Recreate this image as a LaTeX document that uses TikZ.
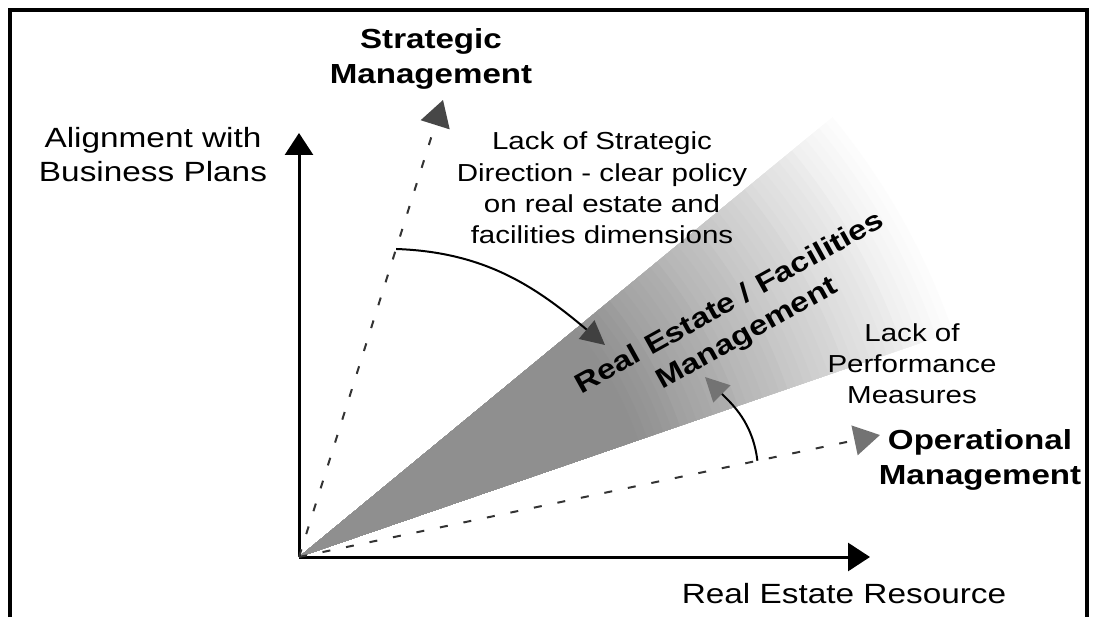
\documentclass[tikz,border=0pt]{standalone}
\usepackage{fontspec}
\setmainfont{Liberation Sans}[FakeStretch=1.2]
\usetikzlibrary{arrows.meta, calc}
\tikzset{
  axis/.style={line width=1.5pt, -{Triangle[length=11pt,width=14pt]}},
  mgmt/.style={black!80, line width=1pt, dash pattern=on 4pt off 8pt, -{Triangle[length=13pt,width=15pt,color=#1]}},
  bendarrow/.style={line width=1pt, -{Triangle[length=12pt,width=12pt,color=#1]}},
  lbl/.style={align=center, inner sep=0pt, font=\fontsize{13.9}{17}\selectfont},
  desc/.style={align=center, inner sep=0pt, font=\fontsize{12.3}{15.6}\selectfont},
  head/.style={align=center, inner sep=0pt, font=\bfseries\fontsize{13.8}{17.5}\selectfont}
}
\begin{document}
\begin{tikzpicture}[x=0.5pt, y=0.5pt]
    \useasboundingbox (0,0) rectangle (1093,617);
    \draw[line width=2pt] (10,0) -- (10,607) -- (1087,607) -- (1087,0);
    \coordinate (O) at (299,60);
    \coordinate (ytip) at (299,484);
    \coordinate (xtip) at (870,60);
    \coordinate (stip) at (443,517);
    \coordinate (otip) at (880,182);
    \begin{scope}
        \clip (O) -- +(39.5:760) -- +(19:760) -- cycle;
        \foreach \i in {80,...,1}{
            \pgfmathtruncatemacro\g{min(44,(80-\i)*1.15)}
            \fill[black!\g] (O) circle (\i*8.75);
        }
    \end{scope}
    \draw[axis] (O) -- (ytip);
    \draw[axis] (O) -- (xtip);
    \draw[mgmt=black!72] (O) -- (stip);
    \draw[mgmt=black!55] (O) -- (otip);
    \coordinate (sfrom) at ($(O)!0.674!(stip)$);
    \coordinate (sto) at (605,272);
    \draw[bendarrow=black!75] (sfrom) to[out=-2, in=140] (sto);
    \coordinate (ofrom) at ($(O)!0.789!(otip)$);
    \coordinate (oto) at (705,240);
    \draw[bendarrow=black!55] (ofrom) to[out=97, in=-45] (oto);
    \node[lbl] (align) at (153,462) {Alignment with\\Business Plans};
    \node[lbl, anchor=base] (resource) at (844,14) {Real Estate Resource};
    \node[head] (strategic) at (431,558) {Strategic\\Management};
    \node[head] (operational) at (980,157) {Operational\\Management};
    \node[desc] (lackdir) at (602,429) {Lack of Strategic\\Direction - clear policy\\on real estate and\\facilities dimensions};
    \node[desc] (lackperf) at (912,253) {Lack of\\Performance\\Measures};
    \node[head, rotate=29] (refm) at (739,298) {Real Estate / Facilities\\Management};
\end{tikzpicture}
\end{document}
